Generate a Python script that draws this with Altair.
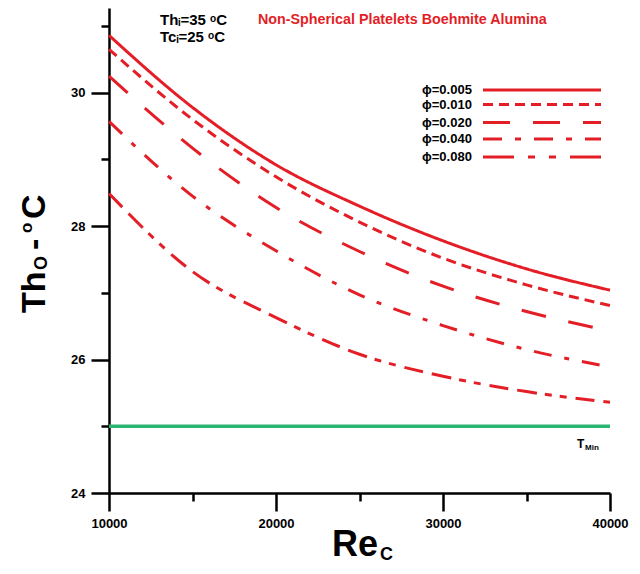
import altair as alt
import pandas as pd

# ---------------- data ----------------
re_values = [10000, 15000, 20000, 25000, 30000, 35000, 40000]
phi_labels = ["ϕ=0.005", "ϕ=0.010", "ϕ=0.020", "ϕ=0.040", "ϕ=0.080"]
tho_005 = [30.86, 29.78, 28.92, 28.30, 27.78, 27.36, 27.04]
tho_010 = [30.65, 29.60, 28.74, 28.06, 27.52, 27.12, 26.81]
tho_020 = [30.25, 29.17, 28.28, 27.62, 27.10, 26.72, 26.43]
tho_040 = [29.57, 28.45, 27.63, 26.97, 26.51, 26.15, 25.89]
tho_080 = [28.49, 27.32, 26.63, 26.08, 25.75, 25.52, 25.36]
t_min = [25]
x_ticks = [10000, 15000, 20000, 25000, 30000, 35000, 40000]
y_ticks = [24, 25, 26, 27, 28, 29, 30, 31]

# ---------------- styling ----------------
RED = "#e41e26"
GREEN = "#2cb673"
FONT = "Liberation Sans"
W, H = 501, 485
curve_dashes = [[1, 0], [10, 6], [25, 23], [18, 13, 5, 13], [19, 9, 20, 8, 7, 8, 7, 9]]
legend_dashes = [[1, 0], [10, 6], [27, 23], [19, 13, 6, 13], [31, 14, 7, 14, 7, 14]]

series = [tho_005, tho_010, tho_020, tho_040, tho_080]
rows = []
for lab, vals in zip(phi_labels, series):
    for r, t in zip(re_values, vals):
        rows.append({"Re": r, "Tho": t, "series": lab})
df = pd.DataFrame(rows)

x_scale = alt.Scale(domain=[10000, 40000], nice=False, zero=False)
y_scale = alt.Scale(domain=[24, 31.27], nice=False, zero=False)

x_axis = alt.Axis(
    values=x_ticks, title=None, grid=False,
    domainColor="black", domainWidth=2.5,
    tickColor="black", tickWidth=2.5,
    tickSize={"condition": {"test": "datum.value % 10000 === 0", "value": 18}, "value": 8},
    labelExpr="datum.value % 10000 === 0 ? datum.label : ''",
    format="d", labelFont=FONT, labelFontWeight="bold", labelFontSize=13,
    labelColor="black", labelPadding=6, labelFlush=False, labelOverlap=False,
)
y_axis = alt.Axis(
    values=y_ticks, title=None, grid=False,
    domainColor="black", domainWidth=2.5,
    tickColor="black", tickWidth=2.5,
    tickSize={"condition": {"test": "datum.value % 2 === 0", "value": 18}, "value": 8},
    labelExpr="datum.value % 2 === 0 ? datum.label : ''",
    format="d", labelFont=FONT, labelFontWeight="bold", labelFontSize=13,
    labelColor="black", labelPadding=6, labelOverlap=False,
)

lines = alt.Chart(df).mark_line(interpolate="monotone", strokeWidth=3, color=RED).encode(
    x=alt.X("Re:Q", scale=x_scale, axis=x_axis),
    y=alt.Y("Tho:Q", scale=y_scale, axis=y_axis),
    strokeDash=alt.StrokeDash("series:N", scale=alt.Scale(domain=phi_labels, range=curve_dashes), legend=None),
)

tmin_df = pd.DataFrame({"T": t_min, "x0": [x_ticks[0]], "x1": [x_ticks[-1]]})
tmin = alt.Chart(tmin_df).mark_rule(color=GREEN, strokeWidth=3.5).encode(
    y=alt.Y("T:Q", scale=y_scale), x=alt.X("x0:Q", scale=x_scale), x2="x1:Q"
)


def label(text, x, y, size, color="black", align="left", baseline="middle", angle=0, weight="bold"):
    return alt.Chart(pd.DataFrame({"t": [text]})).mark_text(
        font=FONT, fontSize=size, fontWeight=weight, color=color,
        align=align, baseline=baseline, angle=angle,
    ).encode(x=alt.value(x), y=alt.value(y), text="t:N")


layers = [tmin, lines]

# annotations at top
layers.append(label("Thᵢ=35 ᵒC", 51, 12, 15))
layers.append(label("Tcᵢ=25 ᵒC", 51, 29, 15))
layers.append(label("Non-Spherical Platelets Boehmite Alumina", 149, 12, 14.3, color=RED))
# T_Min
layers.append(label("T", 468, 436, 12))
layers.append(label("Min", 476, 440, 8))

# legend
leg_y = [82, 96.5, 114.5, 131, 149]
for lab, yy, dash in zip(phi_labels, leg_y, legend_dashes):
    layers.append(label(lab, 313, yy, 13))
    layers.append(
        alt.Chart(pd.DataFrame({"s": [lab]})).mark_rule(color=RED, strokeWidth=3, strokeDash=dash).encode(
            x=alt.value(374), x2=alt.value(492), y=alt.value(yy)
        )
    )

# y-axis title  Th_O - °C
layers.append(label("Th", -64, 305, 34, align="left", baseline="alphabetic", angle=270))
layers.append(label("O", -62, 262, 18, align="left", baseline="alphabetic", angle=270))
layers.append(label("-", -64, 242, 34, align="left", baseline="alphabetic", angle=270))
layers.append(label("o", -77, 225, 17, align="left", baseline="alphabetic", angle=270))
layers.append(label("C", -64, 211, 34, align="left", baseline="alphabetic", angle=270))

# x-axis title  Re_C
layers.append(label("Re", 223, 548, 36, baseline="alphabetic"))
layers.append(label("C", 271, 552, 18, baseline="alphabetic"))

chart = alt.layer(*layers).properties(
    width=W, height=H, autosize="none",
    padding={"left": 101, "top": 0, "right": 22, "bottom": 73},
).configure_view(stroke=None)

chart.save("out.html", embed_options={"renderer": "svg", "actions": False})
